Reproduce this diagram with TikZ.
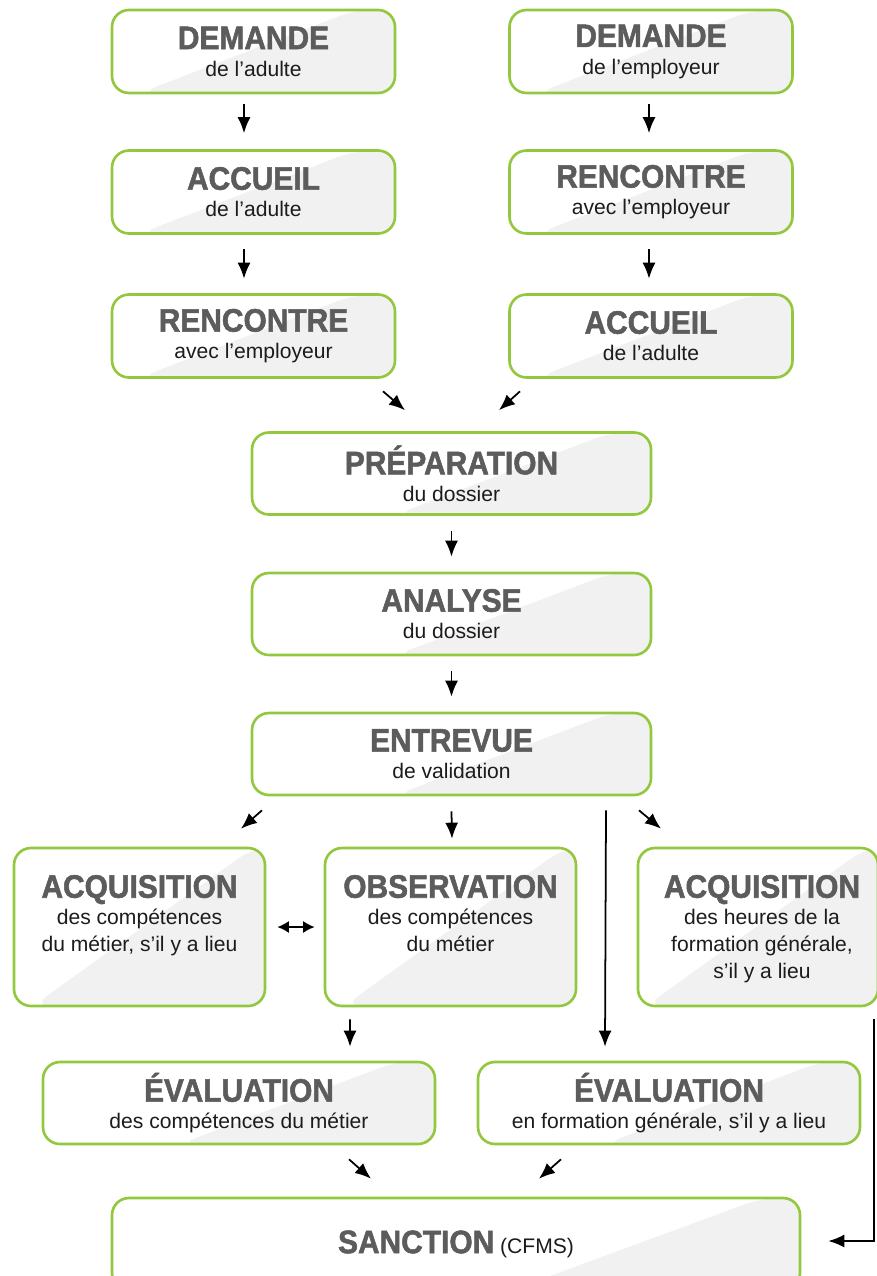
\documentclass[tikz,border=0pt]{standalone}
\usepackage{fontspec}
\setmainfont{Liberation Sans}
\newfontfamily\ttlfont[FakeStretch=0.92,FakeBold=1.6]{Liberation Sans}
\usetikzlibrary{arrows.meta,calc,positioning}
\definecolor{leaf}{HTML}{93C83E}
\definecolor{haze}{HTML}{F1F1F1}
\definecolor{ttlgrey}{HTML}{5C5C5C}
\definecolor{ink}{HTML}{1C1C1C}
\newcommand\boxttl[1]{{\ttlfont\bfseries\fontsize{18.5}{15.4}\selectfont\color{ttlgrey}#1}}
\def\hzA{0.8}\def\hzB{4.3}
\tikzset{>={Latex[length=3.2mm,width=2.6mm]},
  every node/.style={font=\fontsize{12}{15.4}\selectfont,text=ink},
  sheen/.code 2 args={\def\hzA{#1}\def\hzB{#2}},
  stage/.style={draw=leaf,line width=1.5pt,rounded corners=0.34cm,fill=white,
    align=center,inner sep=0pt,
    path picture={\fill[haze] ($(path picture bounding box.north east)+(-\hzA,0)$)
      -- ($(path picture bounding box.south east)+(-\hzA-\hzB,0)$)
      -- (path picture bounding box.south east)
      -- (path picture bounding box.north east) -- cycle;}},
  short/.style={stage,minimum width=5.66cm,minimum height=1.66cm},
  wide/.style={stage,minimum width=7.98cm,minimum height=1.64cm},
  tall/.style={stage,sheen={0.24}{4.4},minimum width=5.02cm,minimum height=3.16cm},
  tag/.style={align=center,inner sep=0pt,anchor=north},
  flow/.style={->,line width=1pt},
  both/.style={{Latex[length=2.3mm,width=2.4mm]}-{Latex[length=2.3mm,width=2.4mm]},line width=1pt}}

\begin{document}
\begin{tikzpicture}
\useasboundingbox (0,0) rectangle (17.52,-25.52);
\node[short] (dema) at (5.07,-1.03) {\boxttl{DEMANDE}\\de l’adulte};
\node[short] (demb) at (13.02,-1.03) {\boxttl{DEMANDE}\\de l’employeur};
\node[short] (acca) at (5.07,-3.84) {\boxttl{ACCUEIL}\\de l’adulte};
\node[short] (renb) at (13.02,-3.84) {\boxttl{RENCONTRE}\\avec l’employeur};
\node[short] (rena) at (5.07,-6.72) {\boxttl{RENCONTRE}\\avec l’employeur};
\node[short] (accb) at (13.02,-6.72) {\boxttl{ACCUEIL}\\de l’adulte};
\node[wide] (prep) at (9.03,-9.47) {\boxttl{PRÉPARATION}\\du dossier};
\node[wide] (anal) at (9.03,-12.28) {\boxttl{ANALYSE}\\du dossier};
\node[wide] (entr) at (9.03,-15.08) {\boxttl{ENTREVUE}\\de validation};
\node[tall] (acqa) at (2.79,-18.54) {};
\node[tag] (acqa-t) at ([yshift=-0.56cm]acqa.north) {\boxttl{ACQUISITION}\\des compétences\\du métier, s’il y a lieu};
\node[tall] (obs) at (9.01,-18.54) {};
\node[tag] (obs-t) at ([yshift=-0.56cm]obs.north) {\boxttl{OBSERVATION}\\des compétences\\du métier};
\node[tall,minimum width=4.8cm] (acqb) at (15.16,-18.54) {};
\node[tag] (acqb-t) at ([xshift=0.08cm,yshift=-0.56cm]acqb.north) {\boxttl{ACQUISITION}\\des heures de la\\formation générale,\\s’il y a lieu};
\node[stage,minimum width=7.84cm,minimum height=1.64cm] (evla) at (4.78,-22.06) {\boxttl{ÉVALUATION}\\des compétences du métier};
\node[stage,minimum width=7.64cm,minimum height=1.64cm] (evlb) at (13.38,-22.06) {\boxttl{ÉVALUATION}\\en formation générale, s’il y a lieu};
\node[stage,sheen={0.76}{5.0},minimum width=13.76cm,minimum height=1.84cm] (sanc) at (9.12,-24.88) {\boxttl{SANCTION} (CFMS)};
\draw[flow] ([xshift=-0.19cm,yshift=-0.2cm]dema.south) -- ([xshift=-0.19cm,yshift=0.32cm]acca.north);
\draw[flow] ([xshift=-0.04cm,yshift=-0.2cm]demb.south) -- ([xshift=-0.04cm,yshift=0.32cm]renb.north);
\draw[flow] ([xshift=-0.19cm,yshift=-0.29cm]acca.south) -- ([xshift=-0.19cm,yshift=0.29cm]rena.north);
\draw[flow] ([xshift=-0.04cm,yshift=-0.29cm]renb.south) -- ([xshift=-0.04cm,yshift=0.29cm]accb.north);
\draw[flow] ([xshift=2.59cm,yshift=-0.25cm]rena.south) -- ([xshift=-0.93cm,yshift=0.42cm]prep.north);
\draw[flow] ([xshift=-2.62cm,yshift=-0.25cm]accb.south) -- ([xshift=0.95cm,yshift=0.42cm]prep.north);
\draw[flow] ([yshift=-0.3cm]prep.south) -- ([yshift=0.3cm]anal.north);
\draw[flow] ([yshift=-0.3cm]anal.south) -- ([yshift=0.3cm]entr.north);
\draw[flow] ([xshift=-3.79cm,yshift=-0.28cm]entr.south) -- ([xshift=2.03cm,yshift=0.36cm]acqa.north);
\draw[flow] ([yshift=-0.3cm]entr.south) -- ([xshift=0.03cm,yshift=0.16cm]obs.north);
\draw[flow] ([xshift=3.75cm,yshift=-0.28cm]entr.south) -- ([xshift=-1.94cm,yshift=0.36cm]acqb.north);
\draw[flow] ([xshift=3.09cm,yshift=-0.28cm]entr.south) -- ([xshift=-1.28cm,yshift=0.28cm]evlb.north);
\draw[both] ([xshift=0.22cm]acqa.east) -- ([xshift=-0.18cm]obs.west);
\draw[flow] ([xshift=-2.01cm,yshift=-0.24cm]obs.south) -- ([xshift=2.22cm,yshift=0.28cm]evla.north);
\draw[flow] ([xshift=2.2cm,yshift=-0.28cm]evla.south) -- ([xshift=-1.7cm,yshift=0.36cm]sanc.north);
\draw[flow] ([xshift=-2.16cm,yshift=-0.28cm]evlb.south) -- ([xshift=1.66cm,yshift=0.36cm]sanc.north);
\draw[flow] ([xshift=2.32cm,yshift=-0.24cm]acqb.south) |- ([xshift=0.54cm,yshift=0.06cm]sanc.east);
\end{tikzpicture}
\end{document}
